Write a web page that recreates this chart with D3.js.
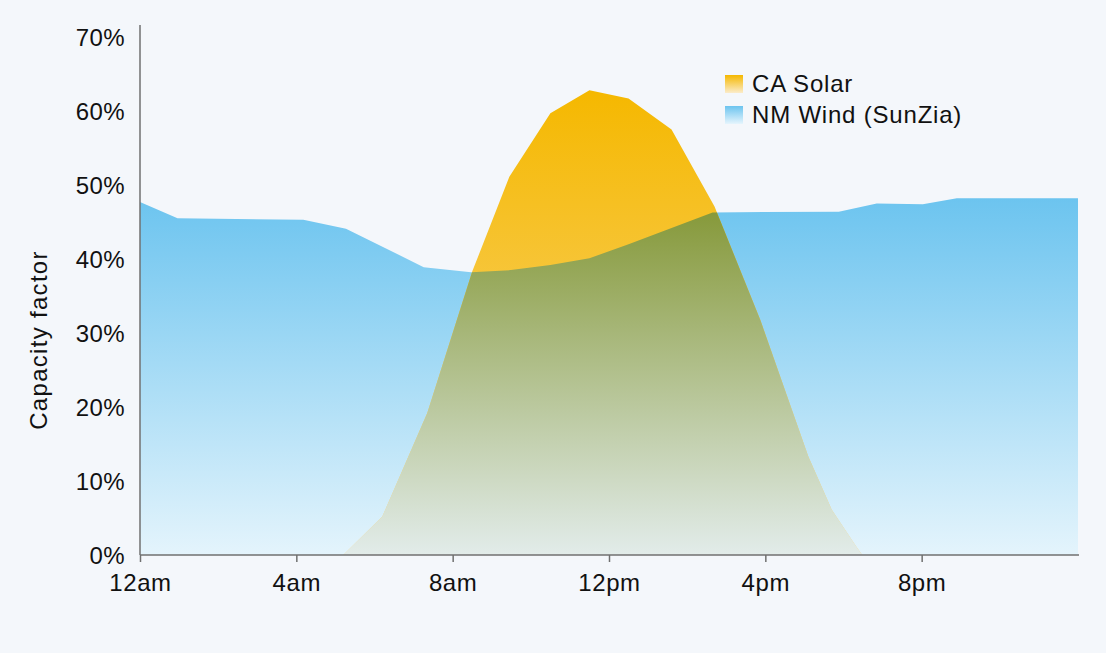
<!DOCTYPE html>
<html>
<head>
<meta charset="utf-8">
<script src="https://cdn.jsdelivr.net/npm/d3@7"></script>
<style>
  html, body { margin: 0; padding: 0; background: #f4f7fb; }
  svg { display: block; }
  text { font-family: "Liberation Sans", Arial, sans-serif; fill: #111; }
</style>
</head>
<body>
<svg id="chart" width="1106" height="653"></svg>
<script>
// ---- data ----
const seriesNames = ["CA Solar", "NM Wind (SunZia)"];
const windHours  = [0, 0.96, 4.18, 5.27, 7.26, 8.47, 9.49, 10.5, 11.5, 12.5, 13.6, 14.65, 17.88, 18.85, 20.03, 20.9, 24];
const windValues = [47.7, 45.5, 45.3, 44.1, 38.9, 38.2, 38.5, 39.2, 40.1, 42.0, 44.2, 46.3, 46.4, 47.5, 47.4, 48.2, 48.2];
const solarHours  = [5.2, 6.2, 7.35, 8.5, 9.45, 10.5, 11.5, 12.5, 13.6, 14.7, 15.87, 17.1, 17.7, 18.33, 18.48];
const solarValues = [0, 5.2, 19.2, 38.3, 51.1, 59.7, 62.8, 61.7, 57.5, 47.1, 31.8, 13.3, 6.1, 1.1, 0];
const xTickHours  = [0, 4, 8, 12, 16, 20];
const xTickLabels = ["12am", "4am", "8am", "12pm", "4pm", "8pm"];
const yTicks      = [0, 10, 20, 30, 40, 50, 60, 70];
const yLabel      = "Capacity factor";

(function () {
const wind  = windHours.map((h, i) => ({ h, v: windValues[i] }));
const solar = solarHours.map((h, i) => ({ h, v: solarValues[i] }));

const svg = d3.select("#chart");
const mLeft = 140, mRight = 1078, mTop = 37, mBottom = 555;

const x = d3.scaleLinear().domain([0, 24]).range([mLeft, mRight]);
const y = d3.scaleLinear().domain([0, 70]).range([mBottom, mTop]);

// gradients
const defs = svg.append("defs");
function grad(id, c0, c1, y0, y1, units) {
  const g = defs.append("linearGradient").attr("id", id)
    .attr("x1", 0).attr("x2", 0);
  if (units === "user") {
    g.attr("gradientUnits", "userSpaceOnUse").attr("y1", y0).attr("y2", y1);
  } else {
    g.attr("y1", 0).attr("y2", 1);
  }
  g.append("stop").attr("offset", 0).attr("stop-color", c0);
  g.append("stop").attr("offset", 1).attr("stop-color", c1);
}
grad("gWind",  "#6cc4ef", "#e4f4fc", y(48.2), y(0), "user");
grad("gSolar", "#f5b800", "#f9d98c", y(62.8), y(0), "user");
grad("gOlive", "#86993a", "#e2ecea", y(46.5), y(0), "user");
grad("lgSolar", "#f5b800", "#fbeccb", 0, 0, "box");
grad("lgWind",  "#6cc4ef", "#e6f5fd", 0, 0, "box");

const area = d3.area().x(d => x(d.h)).y0(y(0)).y1(d => y(d.v));

defs.append("clipPath").attr("id", "windClip")
  .append("path").attr("d", area(wind));

svg.append("path").attr("d", area(wind)).attr("fill", "url(#gWind)");
svg.append("path").attr("d", area(solar)).attr("fill", "url(#gSolar)");
svg.append("path").attr("d", area(solar)).attr("fill", "url(#gOlive)")
  .attr("clip-path", "url(#windClip)");

// axes
const axisColor = "#707070";
const xAxis = d3.axisBottom(x).tickValues(xTickHours)
  .tickFormat((d, i) => xTickLabels[i]).tickSize(7).tickSizeOuter(0);
const gx = svg.append("g").attr("transform", `translate(0,${mBottom})`).call(xAxis);
gx.select(".domain").attr("stroke", axisColor).attr("stroke-width", 1.5)
  .attr("d", `M${mLeft},0H${mRight + 1}`);
gx.selectAll(".tick line").attr("stroke", axisColor).attr("stroke-width", 1.5);
gx.selectAll(".tick text").attr("y", 0).attr("dy", 36)
  .style("font-size", "24px").style("letter-spacing", "0.6px")
  .style("font-family", '"Liberation Sans", Arial, sans-serif').attr("fill", "#111");

const yAxis = d3.axisLeft(y).tickValues(yTicks).tickFormat(d => d + "%")
  .tickSize(0).tickPadding(15);
const gy = svg.append("g").attr("transform", `translate(${mLeft},0)`).call(yAxis);
gy.select(".domain").attr("stroke", axisColor).attr("stroke-width", 1.5)
  .attr("d", `M0,25V${mBottom}`);
gy.selectAll(".tick text").attr("dy", "0.35em")
  .style("font-size", "24px").style("letter-spacing", "0.4px")
  .style("font-family", '"Liberation Sans", Arial, sans-serif').attr("fill", "#111");

svg.append("text")
  .attr("transform", `translate(47,${340}) rotate(-90)`)
  .attr("text-anchor", "middle")
  .style("font-size", "24px").style("letter-spacing", "1.3px")
  .text(yLabel);

// legend
const legend = svg.append("g").attr("transform", "translate(725,75)");
const swatches = ["url(#lgSolar)", "url(#lgWind)"];
seriesNames.forEach((name, i) => {
  const g = legend.append("g").attr("transform", `translate(0,${i * 31})`);
  g.append("rect").attr("width", 18).attr("height", 18).attr("fill", swatches[i]);
  g.append("text").attr("x", 27).attr("y", 17)
    .style("font-size", "24px").style("letter-spacing", "0.8px").text(name);
});
})();
</script>
</body>
</html>
